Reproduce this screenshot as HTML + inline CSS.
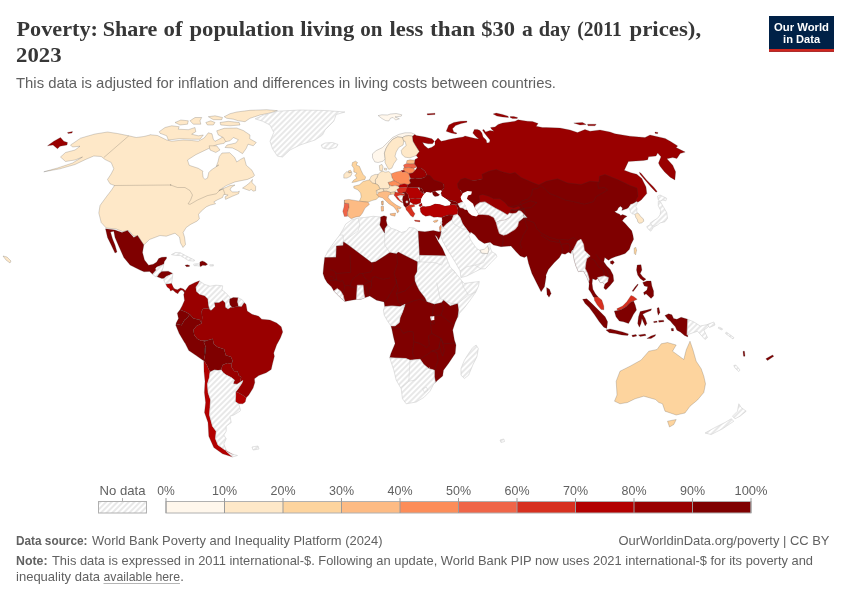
<!DOCTYPE html>
<html lang="en"><head><meta charset="utf-8"><title>Poverty: Share of population living on less than $30 a day</title>
<style>html,body{margin:0;padding:0;background:#fff;}svg{display:block}</style></head><body>
<svg width="850" height="600" viewBox="0 0 850 600">
<defs><pattern id="hatch" width="4" height="4" patternUnits="userSpaceOnUse" patternTransform="rotate(45)"><rect width="4" height="4" fill="#fff"/><line x1="2" y1="0" x2="2" y2="4" stroke="#dadada" stroke-width="1.25"/></pattern></defs>
<rect width="850" height="600" fill="#fff"/>
<text y="36.4" font-family='"Liberation Serif", "Times New Roman", serif' font-size="22" font-weight="bold" fill="#373737"><tspan x="16.5" textLength="81.5" lengthAdjust="spacingAndGlyphs">Poverty:</tspan> <tspan x="102.7" textLength="54.7" lengthAdjust="spacingAndGlyphs">Share</tspan> <tspan x="163.5" textLength="19.0" lengthAdjust="spacingAndGlyphs">of</tspan> <tspan x="189.4" textLength="104.8" lengthAdjust="spacingAndGlyphs">population</tspan> <tspan x="300.2" textLength="54.0" lengthAdjust="spacingAndGlyphs">living</tspan> <tspan x="360.2" textLength="22.2" lengthAdjust="spacingAndGlyphs">on</tspan> <tspan x="389.5" textLength="33.9" lengthAdjust="spacingAndGlyphs">less</tspan> <tspan x="430.1" textLength="45.1" lengthAdjust="spacingAndGlyphs">than</tspan> <tspan x="481.3" textLength="33.8" lengthAdjust="spacingAndGlyphs">$30</tspan> <tspan x="521.9" textLength="10.8" lengthAdjust="spacingAndGlyphs">a</tspan> <tspan x="538.8" textLength="31.7" lengthAdjust="spacingAndGlyphs">day</tspan> <tspan x="577.3" textLength="44.4" lengthAdjust="spacingAndGlyphs">(2011</tspan> <tspan x="629.5" textLength="71.6" lengthAdjust="spacingAndGlyphs">prices),</tspan></text>
<text x="16" y="62.3" font-family='"Liberation Serif", "Times New Roman", serif' font-size="22" font-weight="bold" fill="#373737" text-anchor="start" textLength="45.5" lengthAdjust="spacingAndGlyphs">2023</text>
<text x="16" y="87.7" font-family='"Liberation Sans", Arial, sans-serif' font-size="14.5" font-weight="normal" fill="#616161" text-anchor="start" textLength="540" lengthAdjust="spacingAndGlyphs">This data is adjusted for inflation and differences in living costs between countries.</text>
<g><rect x="769" y="16" width="65" height="35.8" fill="#002147"/><rect x="769" y="49" width="65" height="2.8" fill="#ce261e"/>
<text x="801.5" y="30.5" font-family='"Liberation Sans", Arial, sans-serif' font-size="11.4" font-weight="bold" fill="#fff" text-anchor="middle" textLength="55" lengthAdjust="spacingAndGlyphs">Our World</text>
<text x="801.6" y="42.8" font-family='"Liberation Sans", Arial, sans-serif' font-size="11.4" font-weight="bold" fill="#fff" text-anchor="middle" textLength="37" lengthAdjust="spacingAndGlyphs">in Data</text>
</g>
<g id="map" stroke-linejoin="round">
<path d="M128.8,135.8L117.5,133.5L107.5,132.0L95.0,134.0L86.2,136.5L80.5,138.2L75.0,142.0L70.5,145.0L72.5,147.0L80.0,146.2L75.0,150.0L65.5,152.5L60.5,157.0L65.5,161.5L75.0,160.0L82.5,157.0L72.5,163.0L57.5,168.0L43.8,171.8L60.0,168.8L75.0,164.5L86.2,159.2L93.8,156.0L101.2,156.5L105.0,159.5L111.2,162.5L113.8,168.8L111.2,173.8L107.5,179.5L110.0,183.8L114.5,185.5L111.2,190.5L106.2,197.0L100.0,205.5L98.8,213.0L101.2,222.5L106.2,228.0L116.2,229.0L122.5,231.5L128.8,230.5L133.8,236.2L138.0,235.8L143.8,245.0L149.5,239.5L160.0,235.5L166.2,236.2L175.0,233.2L179.5,237.0L180.5,243.0L183.0,247.5L185.5,244.5L184.5,237.0L183.1,232.5L186.2,227.5L190.6,224.4L196.9,221.2L199.4,218.8L198.5,214.4L201.2,211.2L206.2,206.9L210.0,205.2L215.6,203.8L213.8,201.9L217.5,199.8L222.5,197.5L223.8,194.4L228.1,195.0L225.0,196.9L225.6,199.4L232.5,196.2L238.5,193.8L239.4,191.2L237.5,191.9L232.5,191.9L230.0,190.0L231.2,187.5L235.0,185.0L230.0,185.6L225.0,187.8L218.8,190.6L226.2,185.6L235.0,181.9L247.5,179.4L253.1,176.9L254.5,175.3L252.0,170.3L246.3,165.3L244.2,157.5L240.8,159.2L236.7,162.0L234.7,157.5L229.7,152.7L222.0,153.0L219.2,156.7L218.0,161.7L216.3,166.3L218.8,165.0L211.2,170.0L208.8,172.5L207.5,178.1L205.0,179.4L203.1,177.5L202.5,172.5L203.0,171.3L198.3,168.3L189.2,165.3L187.5,160.0L195.8,154.7L208.3,148.7L216.7,144.7L224.2,143.3L228.3,138.0L225.8,134.7L220.0,138.7L215.0,141.3L213.3,139.2L212.0,133.8L208.3,132.8L204.2,138.0L198.3,141.2L191.7,140.5L183.3,140.0L171.7,141.2L166.7,140.0L157.5,135.5L150.0,134.7L150.0,135.0L143.8,136.5L136.2,137.5Z" fill="#fee8c8" stroke="#333" stroke-opacity="0.4" stroke-width="0.5"/>
<path d="M242.5,188.1L246.2,185.6L250.0,182.5L252.5,179.4L251.9,182.5L255.6,186.2L255.6,190.6L253.1,191.2L251.2,189.4L249.4,190.6L246.2,189.4Z" fill="#fee8c8" stroke="#333" stroke-opacity="0.4" stroke-width="0.5"/>
<path d="M159.2,131.7L165.0,127.5L171.7,125.8L179.2,126.7L178.3,129.2L188.3,129.7L195.0,127.5L195.8,131.7L191.7,134.2L198.3,135.8L203.3,135.0L200.0,139.2L191.7,139.2L180.0,138.7L168.3,140.0L166.7,135.8L160.0,133.3Z" fill="#fee8c8" stroke="#333" stroke-opacity="0.4" stroke-width="0.5"/>
<path d="M224.2,116.7L230.0,113.7L236.7,112.0L250.0,110.3L266.7,109.7L277.5,110.7L270.0,113.0L260.0,115.0L250.0,118.3L245.0,121.7L238.3,120.8L233.3,119.2L226.7,118.3Z" fill="#fee8c8" stroke="#333" stroke-opacity="0.4" stroke-width="0.5"/>
<path d="M220.0,122.5L228.3,121.3L239.2,122.5L240.0,125.0L230.0,125.8L220.8,125.0Z" fill="#fee8c8" stroke="#333" stroke-opacity="0.4" stroke-width="0.5"/>
<path d="M216.7,130.8L224.2,128.3L236.7,128.0L243.3,130.5L250.0,135.0L249.7,138.7L256.3,142.5L253.3,145.8L248.0,144.2L246.3,148.3L242.5,153.7L237.5,150.5L232.5,148.0L225.0,147.5L227.0,145.0L235.8,143.0L238.3,139.7L233.3,137.5L230.0,140.8L225.8,141.7L223.3,137.5L218.3,135.0Z" fill="#fee8c8" stroke="#333" stroke-opacity="0.4" stroke-width="0.5"/>
<path d="M175.0,122.5L180.8,120.0L188.3,120.8L187.5,124.2L180.0,125.0Z" fill="#fee8c8" stroke="#333" stroke-opacity="0.4" stroke-width="0.5"/>
<path d="M190.0,120.8L195.0,117.5L201.7,117.5L200.0,120.8L200.8,124.2L193.3,124.2Z" fill="#fee8c8" stroke="#333" stroke-opacity="0.4" stroke-width="0.5"/>
<path d="M205.8,122.5L210.8,120.8L215.0,122.5L213.3,125.0L207.5,125.0Z" fill="#fee8c8" stroke="#333" stroke-opacity="0.4" stroke-width="0.5"/>
<path d="M208.3,116.7L215.0,115.8L222.5,117.5L221.7,119.7L213.3,119.7Z" fill="#fee8c8" stroke="#333" stroke-opacity="0.4" stroke-width="0.5"/>
<path d="M209.2,145.8L216.7,145.8L220.0,150.0L215.8,152.5L210.0,150.0Z" fill="#fee8c8" stroke="#333" stroke-opacity="0.4" stroke-width="0.5"/>
<path d="M47.5,145.8L53.8,141.2L60.5,137.5L63.8,141.2L67.5,142.5L67.0,145.0L60.0,146.2L57.5,148.8L53.0,145.0Z" fill="#990000" stroke="#333" stroke-opacity="0.4" stroke-width="0.5"/>
<path d="M67.5,132.5L72.5,131.5L72.0,133.0L68.0,133.5Z" fill="#990000" stroke="#333" stroke-opacity="0.4" stroke-width="0.5"/>
<path d="M255.0,118.8L263.8,115.0L277.5,111.2L300.0,110.0L325.0,110.5L345.0,112.0L336.2,114.5L333.8,121.2L325.0,130.0L322.5,135.0L315.0,140.0L300.0,145.0L290.0,150.0L282.5,157.0L277.5,156.2L272.5,148.8L270.0,141.2L273.8,132.5L270.0,125.0L262.5,121.2Z" fill="url(#hatch)" stroke="#cfcfcf" stroke-width="0.6"/>
<path d="M321.2,145.0L325.0,143.0L332.5,142.5L338.0,144.5L336.2,147.5L328.8,149.2L322.5,148.0Z" fill="url(#hatch)" stroke="#cfcfcf" stroke-width="0.6"/>
<path d="M105.5,228.8L115.0,230.0L122.0,232.5L127.5,230.5L133.8,237.5L137.5,235.5L143.8,245.0L142.5,252.5L144.5,260.0L148.6,265.2L153.2,264.2L156.7,262.1L158.7,258.6L161.8,257.3L166.5,256.9L166.5,258.6L164.3,261.6L163.8,264.2L161.8,265.2L156.7,267.2L155.7,268.7L156.2,270.2L152.6,274.3L149.6,271.4L144.0,271.8L140.0,270.0L130.0,265.0L123.8,257.5L118.8,246.2L115.0,237.5L113.8,231.2L110.5,232.0L112.5,238.8L115.0,245.0L117.0,252.0L115.0,253.0L111.2,245.0L107.5,237.5Z" fill="#7f0000" stroke="#333" stroke-opacity="0.4" stroke-width="0.5"/>
<path d="M161.8,265.2L163.8,264.2L163.1,267.7L161.8,271.4L159.2,273.8L157.2,276.8L155.2,276.5L152.6,274.3L156.2,270.2L155.7,268.7L156.7,267.2Z" fill="url(#hatch)" stroke="#cfcfcf" stroke-width="0.6"/>
<path d="M159.2,273.8L161.8,271.4L168.3,271.2L172.9,273.5L169.3,275.3L166.3,276.5L164.3,278.3L161.8,278.5L157.2,276.8Z" fill="#7f0000" stroke="#333" stroke-opacity="0.4" stroke-width="0.5"/>
<path d="M164.3,278.3L166.3,276.5L169.3,275.3L172.9,273.5L172.2,279.3L171.6,283.6L168.3,283.9L165.8,284.2L163.8,280.4Z" fill="url(#hatch)" stroke="#cfcfcf" stroke-width="0.6"/>
<path d="M165.8,284.2L168.3,283.9L171.6,283.6L173.4,287.6L172.9,290.0L170.4,291.0L169.8,289.0L167.1,286.9Z" fill="#b30000" stroke="#333" stroke-opacity="0.4" stroke-width="0.5"/>
<path d="M172.9,290.0L173.4,287.6L174.9,289.0L177.4,289.7L180.5,287.9L183.5,289.0L185.5,291.0L184.5,293.0L183.0,290.5L181.0,290.0L179.0,291.7L177.9,293.7L175.6,292.5Z" fill="#990000" stroke="#333" stroke-opacity="0.4" stroke-width="0.5"/>
<path d="M171.4,254.6L175.4,252.5L180.5,252.8L185.5,255.6L190.6,258.1L194.6,260.1L194.1,261.1L188.6,260.6L184.5,258.1L180.5,255.6L174.9,255.3Z" fill="url(#hatch)" stroke="#cfcfcf" stroke-width="0.6"/>
<path d="M185.0,265.2L187.3,264.8L189.6,265.4L189.4,266.5L186.5,266.7Z" fill="#7f0000" stroke="#333" stroke-opacity="0.4" stroke-width="0.5"/>
<path d="M193.6,264.2L196.7,263.7L199.9,264.0L199.9,266.2L197.2,265.7L194.1,265.7Z" fill="url(#hatch)" stroke="#cfcfcf" stroke-width="0.6"/>
<path d="M199.9,262.1L202.2,260.9L204.8,261.9L207.6,264.2L205.8,265.4L202.7,265.2L200.5,266.7L199.9,265.2Z" fill="#7f0000" stroke="#333" stroke-opacity="0.4" stroke-width="0.5"/>
<path d="M209.8,264.7L213.4,264.7L213.4,266.0L210.0,266.0Z" fill="url(#hatch)" stroke="#cfcfcf" stroke-width="0.6"/>
<path d="M199.5,281.0L204.3,284.3L210.0,286.2L216.0,285.2L222.7,285.8L222.0,290.0L225.0,292.2L228.7,296.0L231.0,299.0L229.5,302.7L231.0,307.2L228.0,309.2L225.3,307.2L225.0,302.7L222.7,300.5L219.0,302.7L214.5,302.7L215.2,306.5L211.5,310.2L209.2,308.7L208.2,305.0L207.7,299.0L204.7,296.0L199.5,294.5L196.2,291.5L195.7,287.0L198.3,283.2Z" fill="url(#hatch)" stroke="#cfcfcf" stroke-width="0.6"/>
<path d="M229.8,299.0L233.2,297.5L238.2,297.8L237.7,302.0L238.8,306.5L234.7,306.9L232.5,307.7L230.2,305.0L229.5,302.0Z" fill="#7f0000" stroke="#333" stroke-opacity="0.4" stroke-width="0.5"/>
<path d="M238.2,297.8L242.2,299.7L244.2,302.7L241.5,306.8L238.8,306.5L237.7,302.0Z" fill="url(#hatch)" stroke="#cfcfcf" stroke-width="0.6"/>
<path d="M185.2,290.7L189.0,285.5L195.0,282.5L199.5,280.7L198.3,283.2L195.7,287.0L196.2,291.5L199.5,294.5L204.7,296.0L207.7,299.0L208.2,305.0L209.2,308.7L210.0,310.2L208.5,308.3L203.2,308.7L201.7,311.0L202.2,317.7L201.7,323.0L199.5,319.7L193.5,318.5L189.7,314.3L185.2,311.7L180.0,309.8L182.2,305.7L184.5,300.5L183.7,294.5Z" fill="#990000" stroke="#333" stroke-opacity="0.4" stroke-width="0.5"/>
<path d="M180.0,309.8L185.2,311.7L189.7,314.3L187.5,317.7L184.5,320.0L181.5,325.2L177.7,324.2L175.8,325.2L176.2,323.0L178.5,318.5L177.3,313.2Z" fill="#7f0000" stroke="#333" stroke-opacity="0.4" stroke-width="0.5"/>
<path d="M175.8,325.2L177.7,324.2L181.5,325.2L184.5,320.0L187.5,317.7L189.7,314.3L193.5,318.5L199.5,319.7L201.7,323.0L201.0,323.7L196.5,326.0L193.5,329.7L194.2,335.0L197.2,338.7L201.0,340.7L207.7,340.2L203.7,341.7L205.8,347.0L205.2,354.5L204.8,347.5L205.0,355.0L203.8,360.6L202.5,360.0L196.2,355.6L188.8,350.6L185.0,343.1L184.5,342.5L179.2,333.5Z" fill="#7f0000" stroke="#333" stroke-opacity="0.4" stroke-width="0.5"/>
<path d="M203.7,341.7L207.7,340.2L212.7,338.7L213.7,344.0L217.5,347.0L224.2,349.2L225.7,355.2L230.7,356.7L231.2,357.5L232.8,361.2L231.2,363.8L227.5,363.1L222.5,365.0L221.2,370.0L218.1,370.6L214.4,370.0L210.0,372.2L206.9,365.0L203.8,360.6L205.0,355.0L204.8,347.5L205.2,354.5L205.8,347.0Z" fill="#7f0000" stroke="#333" stroke-opacity="0.4" stroke-width="0.5"/>
<path d="M210.0,310.2L211.5,310.2L215.2,306.5L214.5,302.7L219.0,302.7L222.7,300.5L225.0,302.7L225.3,307.2L228.0,309.2L231.0,307.2L232.5,307.7L234.7,306.9L238.8,306.5L241.5,306.8L244.2,302.7L246.0,304.2L247.2,311.0L252.0,314.3L258.7,316.2L261.7,319.2L269.9,320.0L276.7,323.0L281.2,326.7L282.7,332.0L280.4,338.0L276.7,344.7L273.7,353.0L274.4,356.2L272.5,363.8L271.2,369.4L266.2,372.8L258.8,375.6L254.4,378.8L254.8,382.5L253.1,388.1L248.8,395.0L246.2,397.8L242.5,395.0L237.5,392.2L235.6,391.9L238.1,388.8L241.9,383.1L242.8,380.6L240.0,382.5L241.2,376.9L238.8,375.6L237.5,371.2L234.4,371.2L231.9,368.1L231.2,363.8L232.8,361.2L231.2,357.5L230.7,356.7L225.7,355.2L224.2,349.2L217.5,347.0L213.7,344.0L212.7,338.7L207.7,340.2L201.0,340.7L197.2,338.7L194.2,335.0L193.5,329.7L196.5,326.0L201.0,323.7L201.7,323.0L202.2,317.7L201.7,311.0L203.2,308.7L208.5,308.3Z" fill="#990000" stroke="#333" stroke-opacity="0.4" stroke-width="0.5"/>
<path d="M221.2,370.0L222.5,365.0L227.5,363.1L231.2,363.8L231.9,368.1L234.4,371.2L237.5,371.2L238.8,375.6L241.2,376.9L240.0,382.5L236.9,384.4L233.1,383.8L234.4,380.0L231.2,377.5L226.2,375.0L223.1,372.8Z" fill="#990000" stroke="#333" stroke-opacity="0.4" stroke-width="0.5"/>
<path d="M235.6,391.9L237.5,392.2L242.5,395.0L246.2,397.8L245.2,401.9L242.8,403.8L238.8,403.8L235.2,401.5L235.6,396.2Z" fill="#b30000" stroke="#333" stroke-opacity="0.4" stroke-width="0.5"/>
<path d="M203.8,360.6L206.9,365.0L210.0,372.2L209.4,377.5L207.5,383.8L208.1,392.5L210.6,400.0L210.0,407.5L209.5,415.0L212.5,426.2L216.2,431.2L215.5,438.8L218.0,445.0L225.0,450.0L233.8,455.0L232.5,457.0L222.5,453.8L213.8,447.5L208.8,436.2L208.0,422.5L204.5,412.5L204.8,410.0L205.6,402.5L204.4,392.5L205.0,381.2L204.0,371.2Z" fill="#b30000" stroke="#333" stroke-opacity="0.4" stroke-width="0.5"/>
<path d="M210.0,372.2L214.4,370.0L218.1,370.6L221.2,370.0L223.1,372.8L226.2,375.0L231.2,377.5L234.4,380.0L233.1,383.8L236.9,384.4L240.0,382.5L242.8,380.6L241.9,383.1L238.1,388.8L235.6,391.9L235.6,396.2L235.2,401.5L238.8,404.4L240.6,410.0L240.0,411.2L233.8,415.0L230.0,416.2L231.2,422.5L226.2,426.2L226.2,431.2L223.8,435.0L226.2,438.8L223.8,443.8L226.2,450.0L225.0,450.0L218.0,445.0L215.5,438.8L216.2,431.2L212.5,426.2L209.5,415.0L210.0,407.5L210.6,400.0L208.1,392.5L207.5,383.8L209.4,377.5Z" fill="url(#hatch)" stroke="#cfcfcf" stroke-width="0.6"/>
<path d="M226.2,451.2L231.2,453.8L237.5,455.5L232.5,457.0Z" fill="url(#hatch)" stroke="#cfcfcf" stroke-width="0.6"/>
<path d="M372.5,153.8L376.2,150.6L382.5,147.5L387.5,142.5L392.5,137.5L398.8,134.4L405.0,132.8L411.2,132.8L415.0,134.4L412.5,136.2L408.8,135.6L405.0,136.2L402.5,137.5L397.5,136.9L392.5,139.4L388.8,143.8L386.2,148.1L384.4,153.1L385.2,158.8L383.1,161.2L378.1,162.5L374.8,161.9L372.5,157.8Z" fill="#fff7ec" stroke="#333" stroke-opacity="0.4" stroke-width="0.5"/>
<path d="M392.5,139.4L397.5,136.9L402.5,137.5L403.8,141.2L403.1,145.0L398.8,147.5L396.2,151.9L395.0,156.2L396.9,159.4L393.8,163.8L391.9,168.1L388.8,169.4L386.9,166.2L385.0,162.5L385.2,158.8L384.4,153.1L386.2,148.1L388.8,143.8Z" fill="#fee8c8" stroke="#333" stroke-opacity="0.4" stroke-width="0.5"/>
<path d="M405.0,136.2L408.8,135.6L412.5,136.2L413.1,141.2L415.6,145.6L419.4,151.5L416.2,155.6L410.0,157.8L405.0,157.2L401.9,154.4L401.2,150.6L403.1,148.1L406.2,145.6L405.0,141.2L403.8,141.2L402.5,137.5Z" fill="#fee8c8" stroke="#333" stroke-opacity="0.4" stroke-width="0.5"/>
<path d="M406.9,160.6L410.0,159.8L415.0,160.2L414.4,163.8L410.0,164.0L406.5,163.1Z" fill="#fdbb84" stroke="#333" stroke-opacity="0.4" stroke-width="0.5"/>
<path d="M403.5,165.0L406.5,163.5L410.0,164.0L414.4,163.8L416.9,166.9L413.8,168.5L408.8,167.5L404.4,168.1Z" fill="#ef6548" stroke="#333" stroke-opacity="0.4" stroke-width="0.5"/>
<path d="M403.5,168.1L408.8,167.5L413.8,168.5L415.0,170.6L412.5,173.1L408.8,173.5L405.6,171.9L403.8,170.6Z" fill="#fc8d59" stroke="#333" stroke-opacity="0.4" stroke-width="0.5"/>
<path d="M401.0,170.6L403.8,170.2L405.2,171.5L402.5,172.2Z" fill="#990000" stroke="#333" stroke-opacity="0.4" stroke-width="0.5"/>
<path d="M391.2,173.8L396.2,171.9L401.0,171.0L402.5,172.2L405.6,171.9L408.8,173.5L409.8,176.2L409.4,180.0L410.6,183.1L408.1,184.8L404.4,183.8L400.6,184.4L397.5,182.5L393.8,180.6L391.9,177.5Z" fill="#fc8d59" stroke="#333" stroke-opacity="0.4" stroke-width="0.5"/>
<path d="M378.1,174.4L380.6,171.9L383.1,171.2L385.0,172.2L388.8,171.5L391.2,173.8L391.9,177.5L393.8,180.6L390.6,181.9L388.1,182.5L389.4,185.0L390.0,186.9L388.1,188.8L383.1,188.8L380.0,188.8L378.1,185.0L375.6,183.8L375.2,180.0L376.9,177.5Z" fill="#fee8c8" stroke="#333" stroke-opacity="0.4" stroke-width="0.5"/>
<path d="M379.4,165.6L381.9,164.4L383.1,166.9L382.2,171.0L379.8,170.6Z" fill="#fee8c8" stroke="#333" stroke-opacity="0.4" stroke-width="0.5"/>
<path d="M384.4,168.1L386.9,168.5L386.5,170.2L384.5,170.0Z" fill="#fee8c8" stroke="#333" stroke-opacity="0.4" stroke-width="0.5"/>
<path d="M371.2,176.2L375.0,174.4L378.1,174.4L376.9,177.5L375.2,180.0L375.6,183.8L372.5,183.1L369.4,180.0Z" fill="#fee8c8" stroke="#333" stroke-opacity="0.4" stroke-width="0.5"/>
<path d="M352.5,162.5L355.6,161.2L357.5,162.5L356.2,165.0L359.4,166.2L361.2,170.6L363.1,174.4L365.6,176.9L365.0,179.4L360.0,180.6L355.6,181.9L351.9,182.5L353.8,180.0L356.9,178.1L355.0,175.6L356.9,173.1L353.8,171.9L353.8,168.1L351.9,165.6Z" fill="#fdd49e" stroke="#333" stroke-opacity="0.4" stroke-width="0.5"/>
<path d="M348.1,171.0L350.6,170.2L351.6,172.2L349.0,173.0Z" fill="#fdd49e" stroke="#333" stroke-opacity="0.4" stroke-width="0.5"/>
<path d="M343.8,174.4L346.9,171.5L349.0,173.0L351.6,172.2L351.9,173.8L350.6,176.2L346.9,178.1L343.8,178.1Z" fill="#fee8c8" stroke="#333" stroke-opacity="0.4" stroke-width="0.5"/>
<path d="M388.1,182.5L390.6,181.9L393.8,180.6L397.5,182.5L400.6,184.4L398.1,186.2L395.0,185.6L391.9,186.2L389.4,185.0Z" fill="#fc8d59" stroke="#333" stroke-opacity="0.4" stroke-width="0.5"/>
<path d="M398.1,186.2L400.6,184.4L404.4,183.8L408.1,184.8L407.5,186.9L403.1,187.5L399.4,187.8Z" fill="#b30000" stroke="#333" stroke-opacity="0.4" stroke-width="0.5"/>
<path d="M396.9,189.4L399.4,187.8L403.1,187.5L407.5,186.9L408.8,188.8L405.6,192.5L401.2,193.8L398.1,192.5Z" fill="#d7301f" stroke="#333" stroke-opacity="0.4" stroke-width="0.5"/>
<path d="M383.1,188.8L388.1,188.8L390.0,186.9L389.4,185.0L391.9,186.2L395.0,185.6L398.1,186.2L399.4,187.8L396.9,189.4L395.0,191.9L390.6,192.5L386.9,191.2L383.8,191.2Z" fill="#fee8c8" stroke="#333" stroke-opacity="0.4" stroke-width="0.5"/>
<path d="M376.2,190.6L380.0,188.8L383.1,188.8L383.8,191.2L381.9,193.1L378.1,193.1Z" fill="#fee8c8" stroke="#333" stroke-opacity="0.4" stroke-width="0.5"/>
<path d="M409.8,176.2L408.8,173.5L412.5,173.1L415.0,170.6L416.9,168.1L421.2,168.1L425.0,171.2L426.9,175.0L424.4,177.5L420.0,178.8L415.0,178.1L410.6,178.8Z" fill="#990000" stroke="#333" stroke-opacity="0.4" stroke-width="0.5"/>
<path d="M353.8,186.2L359.4,184.8L363.1,181.5L367.8,180.2L369.4,180.0L372.5,183.1L375.6,183.8L378.1,185.0L380.0,188.8L376.2,190.6L376.9,194.4L379.0,196.9L376.2,199.4L371.9,200.6L368.1,202.2L359.4,201.2L361.2,196.9L360.6,193.1L358.1,190.0L353.8,188.1Z" fill="#fdd49e" stroke="#333" stroke-opacity="0.4" stroke-width="0.5"/>
<path d="M381.5,201.5L383.1,201.0L383.1,204.8L381.9,205.0Z" fill="#fdd49e" stroke="#333" stroke-opacity="0.4" stroke-width="0.5"/>
<path d="M344.4,203.1L348.8,203.5L349.0,207.5L347.5,212.5L347.5,216.2L344.4,216.5L342.8,211.2L344.0,206.9Z" fill="#ef6548" stroke="#333" stroke-opacity="0.4" stroke-width="0.5"/>
<path d="M344.4,200.0L348.8,199.4L359.4,201.2L368.1,202.2L369.4,204.4L365.0,208.1L362.5,213.1L360.0,216.2L355.0,217.2L351.2,218.8L348.1,216.2L347.5,212.5L349.0,207.5L348.8,203.5L344.4,203.1Z" fill="#fdbb84" stroke="#333" stroke-opacity="0.4" stroke-width="0.5"/>
<path d="M376.9,194.4L379.0,192.5L383.8,191.2L386.9,191.2L390.6,192.5L391.2,194.4L388.8,195.0L388.1,197.5L391.2,201.2L396.2,205.0L401.2,207.5L400.0,209.0L397.5,208.1L399.0,211.2L397.5,213.1L396.5,210.6L393.8,206.9L388.8,203.8L385.0,200.0L382.5,197.8L379.0,196.9Z" fill="#fdbb84" stroke="#333" stroke-opacity="0.4" stroke-width="0.5"/>
<path d="M381.0,206.5L383.5,206.2L383.5,211.0L381.5,211.2Z" fill="#fdbb84" stroke="#333" stroke-opacity="0.4" stroke-width="0.5"/>
<path d="M390.0,213.8L395.6,213.1L395.0,216.2L390.6,215.2Z" fill="#fdbb84" stroke="#333" stroke-opacity="0.4" stroke-width="0.5"/>
<path d="M390.6,192.5L395.0,191.9L394.8,194.0L391.2,194.4Z" fill="#fdd49e" stroke="#333" stroke-opacity="0.4" stroke-width="0.5"/>
<path d="M394.8,194.0L395.0,191.9L398.1,192.5L401.2,193.8L405.0,194.0L404.4,195.6L400.6,195.6L397.5,196.2L400.0,200.0L403.1,202.8L401.2,202.2L397.5,199.4L395.0,196.2L393.8,195.0Z" fill="#d7301f" stroke="#333" stroke-opacity="0.4" stroke-width="0.5"/>
<path d="M397.5,196.2L400.6,195.6L403.1,196.2L402.5,199.4L400.6,200.2Z" fill="url(#hatch)" stroke="#cfcfcf" stroke-width="0.6"/>
<path d="M402.5,192.5L405.6,191.9L408.1,194.4L408.8,198.1L410.0,201.9L409.4,205.0L407.5,206.2L405.6,207.5L403.8,205.6L403.1,202.8L402.5,199.4L403.1,196.2L404.4,195.6L405.0,194.0Z" fill="#7f0000" stroke="#333" stroke-opacity="0.4" stroke-width="0.5"/>
<path d="M406.0,201.0L407.8,201.0L407.8,202.8L406.0,202.8Z" fill="url(#hatch)" stroke="#cfcfcf" stroke-width="0.6"/>
<path d="M405.6,207.5L407.5,206.2L409.4,205.0L413.8,204.4L415.0,206.2L411.2,207.5L413.1,211.2L415.0,213.8L413.1,217.2L410.6,215.6L408.1,211.9L406.2,210.0Z" fill="#d7301f" stroke="#333" stroke-opacity="0.4" stroke-width="0.5"/>
<path d="M414.4,220.0L420.0,220.6L419.8,221.9L415.0,221.2Z" fill="#d7301f" stroke="#333" stroke-opacity="0.4" stroke-width="0.5"/>
<path d="M410.0,199.0L415.0,198.1L421.2,198.8L420.6,203.1L416.2,204.4L413.8,204.4L410.0,201.9Z" fill="#b30000" stroke="#333" stroke-opacity="0.4" stroke-width="0.5"/>
<path d="M405.6,191.9L407.5,186.9L412.5,187.5L417.5,187.5L420.0,190.6L422.5,193.1L424.4,193.8L421.2,198.8L415.0,198.1L410.0,199.0L408.8,198.1L408.1,194.4Z" fill="#b30000" stroke="#333" stroke-opacity="0.4" stroke-width="0.5"/>
<path d="M419.4,187.5L421.9,188.8L424.0,192.5L422.5,193.1L420.0,190.6Z" fill="#7f0000" stroke="#333" stroke-opacity="0.4" stroke-width="0.5"/>
<path d="M433.1,221.2L435.6,220.2L438.1,220.0L436.9,221.9L434.4,222.5Z" fill="#fdbb84" stroke="#333" stroke-opacity="0.4" stroke-width="0.5"/>
<path d="M415.0,134.4L416.2,135.6L425.0,136.9L431.9,138.8L434.4,141.2L432.5,143.8L428.1,143.8L422.5,142.5L424.4,145.6L428.1,148.5L431.9,147.2L435.0,145.0L435.0,141.2L438.0,138.0L441.2,141.2L445.0,140.6L448.8,139.4L453.8,138.5L458.1,137.8L463.1,136.9L465.0,136.0L471.2,137.5L475.6,138.5L478.8,139.0L475.6,136.2L472.8,133.1L474.4,129.4L477.5,129.4L480.0,130.6L481.9,133.1L483.1,136.9L486.2,140.0L486.9,143.1L489.4,142.5L490.0,140.0L486.9,136.2L484.4,133.1L482.5,130.0L483.8,129.4L485.6,131.9L490.0,130.6L493.8,131.2L491.2,128.8L490.6,127.5L495.0,126.9L498.1,124.4L502.5,123.1L510.0,121.9L515.0,121.2L518.1,119.8L522.5,120.6L527.5,121.2L532.5,121.5L538.1,123.5L536.2,126.2L542.5,127.5L546.2,127.5L560.0,128.0L570.0,130.0L577.5,132.5L585.0,129.5L590.0,131.2L600.0,130.0L610.0,132.0L615.0,133.8L630.0,136.2L645.0,137.5L650.0,135.0L665.2,138.4L671.0,141.8L677.7,145.9L676.1,147.6L685.2,152.1L680.2,153.5L676.9,158.5L672.7,157.6L666.9,158.8L672.7,165.2L675.6,171.8L674.9,179.9L670.2,177.2L664.4,171.8L659.9,166.0L658.5,163.1L661.0,156.8L657.7,153.1L656.0,156.0L648.5,156.8L647.7,159.8L643.5,160.5L628.4,161.5L624.3,170.2L631.0,172.7L636.8,174.3L641.8,178.5L646.0,186.9L646.8,193.6L641.2,200.0L637.5,202.5L633.8,201.2L635.0,195.0L598.8,186.2L538.8,187.5L520.0,181.2L502.5,176.2L465.0,181.9L460.0,190.0L462.5,193.5L465.0,196.2L463.8,199.4L463.1,201.9L461.2,202.5L458.1,203.8L456.2,201.9L451.2,200.6L446.9,199.4L441.9,196.2L440.6,191.9L443.8,188.1L443.8,184.4L437.5,183.1L432.5,180.6L424.4,177.5L426.9,175.0L425.0,171.2L421.2,168.1L416.9,168.1L416.9,166.9L414.4,163.8L415.0,160.2L415.0,159.4L418.1,157.8L416.2,155.6L419.4,151.5L415.6,145.6L413.1,141.2L412.5,136.2Z" fill="#990000" stroke="#333" stroke-opacity="0.4" stroke-width="0.5"/>
<path d="M446.2,131.2L448.8,125.0L453.8,122.5L460.6,121.2L466.9,121.0L466.9,122.2L461.2,123.5L455.6,125.6L452.5,128.8L453.8,131.9L456.9,133.1L456.2,134.0L451.2,133.1Z" fill="#990000" stroke="#333" stroke-opacity="0.4" stroke-width="0.5"/>
<path d="M493.1,114.0L496.2,113.1L502.5,114.4L508.1,116.2L508.5,117.5L502.5,116.9L496.9,116.0Z" fill="#990000" stroke="#333" stroke-opacity="0.4" stroke-width="0.5"/>
<path d="M510.2,116.5L513.8,116.5L517.5,117.5L517.2,118.5L512.5,118.5L510.2,117.5Z" fill="#990000" stroke="#333" stroke-opacity="0.4" stroke-width="0.5"/>
<path d="M427.0,113.8L435.0,113.2L435.0,114.5L427.5,115.0Z" fill="#990000" stroke="#333" stroke-opacity="0.4" stroke-width="0.5"/>
<path d="M573.8,123.0L582.5,122.5L586.2,124.5L580.0,125.0Z" fill="#990000" stroke="#333" stroke-opacity="0.4" stroke-width="0.5"/>
<path d="M587.5,124.2L596.2,124.2L595.0,125.8L588.0,125.8Z" fill="#990000" stroke="#333" stroke-opacity="0.4" stroke-width="0.5"/>
<path d="M639.3,172.2L641.0,173.2L646.8,180.2L653.5,186.9L657.2,191.5L656.0,192.2L651.0,186.9L645.2,180.2L640.1,174.3Z" fill="#990000" stroke="#333" stroke-opacity="0.4" stroke-width="0.5"/>
<path d="M655.0,132.0L658.0,132.5L657.5,133.8L655.0,133.2Z" fill="#990000" stroke="#333" stroke-opacity="0.4" stroke-width="0.5"/>
<path d="M409.4,180.0L410.6,178.8L415.0,178.1L420.0,178.8L424.4,177.5L426.9,175.0L430.0,175.6L433.8,180.0L441.2,182.5L443.8,184.4L444.0,188.1L441.9,190.6L438.8,195.6L435.0,196.9L432.5,196.2L430.6,193.1L426.5,191.9L424.4,193.8L424.0,192.5L421.9,188.8L419.4,187.5L417.5,187.5L412.5,187.5L407.5,186.9L408.1,184.8L410.6,183.1Z" fill="#7f0000" stroke="#333" stroke-opacity="0.4" stroke-width="0.5"/>
<path d="M462.5,193.5L460.6,190.6L458.1,188.1L457.5,183.8L460.6,179.4L465.0,178.1L471.9,180.6L477.5,180.0L483.1,178.8L481.9,174.4L488.8,171.2L496.2,169.4L502.5,171.9L510.0,173.8L515.0,172.5L521.0,177.5L532.5,182.5L538.8,185.0L546.2,181.2L557.5,178.8L567.5,183.0L581.2,184.5L590.0,181.2L598.8,182.0L599.5,176.2L605.0,174.5L617.5,179.5L630.0,185.5L637.0,188.0L638.0,196.2L635.0,201.2L636.7,201.7L633.3,203.8L630.8,204.6L628.8,207.5L626.7,208.8L624.2,209.6L621.8,210.4L622.5,207.9L620.4,206.2L618.3,207.9L617.1,210.4L614.6,211.5L616.7,212.9L619.6,214.2L620.8,215.4L622.5,214.6L627.1,216.2L624.2,218.3L622.3,220.8L625.0,223.3L628.3,227.1L631.7,230.8L632.9,235.0L633.6,239.3L631.1,244.3L629.4,249.3L625.2,253.5L620.2,255.2L615.2,256.8L611.0,258.5L608.5,260.2L606.0,258.5L604.8,257.5L603.8,261.7L606.8,265.9L610.1,269.2L613.1,275.1L613.8,280.9L610.1,285.4L605.9,289.8L603.8,288.1L604.8,284.2L602.6,282.6L600.1,282.6L597.6,278.4L595.9,280.1L592.6,278.7L592.1,283.4L592.9,289.3L595.4,293.8L598.1,297.1L593.4,297.1L590.9,292.6L588.7,289.3L589.2,283.4L588.7,281.7L586.7,276.7L583.4,270.9L578.4,271.7L575.9,265.9L574.2,260.0L572.5,250.0L571.0,253.5L568.4,252.2L565.1,254.3L561.8,253.5L559.3,257.7L554.2,262.7L548.4,269.4L545.9,275.2L546.1,276.8L544.5,286.8L541.1,291.8L536.9,283.5L531.9,273.4L528.6,263.4L526.9,255.9L524.4,257.6L520.2,255.9L516.1,251.7L511.0,245.9L501.0,246.7L493.5,245.0L490.2,242.2L484.3,243.4L478.8,240.0L474.8,235.0L470.8,232.0L470.0,233.8L466.2,228.8L462.5,223.8L460.0,217.5L457.5,214.4L458.1,210.0L456.9,206.2L455.0,204.4L458.1,204.0L460.0,207.5L463.1,208.1L465.0,209.4L466.9,209.4L467.5,206.2L468.1,203.1L465.0,197.5L463.8,194.4Z" fill="#7f0000" stroke="#333" stroke-opacity="0.4" stroke-width="0.5"/>
<path d="M446.9,199.4L451.2,200.6L456.2,201.9L458.1,203.8L458.1,204.0L455.0,204.4L452.5,204.4L449.8,205.2L450.6,202.5Z" fill="#7f0000" stroke="#333" stroke-opacity="0.4" stroke-width="0.5"/>
<path d="M458.1,203.8L461.2,202.5L463.1,201.9L465.6,205.0L466.9,209.4L465.0,209.4L463.1,208.1L460.0,207.5L458.1,204.0Z" fill="url(#hatch)" stroke="#cfcfcf" stroke-width="0.6"/>
<path d="M478.8,195.6L482.5,194.4L488.8,196.2L493.8,198.8L500.0,198.8L505.0,202.5L508.1,206.2L513.8,208.1L518.8,206.2L520.6,208.1L515.0,210.6L511.2,209.4L509.4,213.1L507.5,215.0L501.2,211.2L495.0,208.1L490.0,205.0L485.0,201.9L480.0,202.5L479.4,198.8Z" fill="#990000" stroke="#333" stroke-opacity="0.4" stroke-width="0.5"/>
<path d="M478.8,214.4L476.9,211.2L474.4,207.5L476.2,205.0L480.0,202.5L485.0,201.9L490.0,205.0L495.0,208.1L501.2,211.2L507.5,215.0L509.4,213.1L512.5,213.8L510.0,217.5L505.0,220.0L500.0,220.6L496.2,222.5L493.8,217.5L488.8,215.0L482.5,214.4Z" fill="url(#hatch)" stroke="#cfcfcf" stroke-width="0.6"/>
<path d="M496.2,222.5L500.0,220.6L505.0,220.0L510.0,217.5L512.5,213.8L516.2,213.1L518.8,210.6L521.0,211.2L526.9,217.6L523.6,217.6L518.6,221.8L517.7,226.0L515.2,229.3L511.0,231.8L506.9,234.3L503.5,235.2L499.4,233.5L497.5,227.5Z" fill="url(#hatch)" stroke="#cfcfcf" stroke-width="0.6"/>
<path d="M577.6,241.0L581.0,239.3L583.5,244.3L584.3,250.2L586.8,252.7L590.2,256.0L586.8,258.5L585.9,262.5L585.1,268.4L587.6,273.4L589.2,279.2L588.7,281.7L586.7,276.7L583.4,270.9L578.4,271.7L575.9,265.9L574.2,260.0L572.5,250.0L571.0,253.5L573.5,249.3L576.0,244.3Z" fill="url(#hatch)" stroke="#cfcfcf" stroke-width="0.6"/>
<path d="M597.6,277.6L604.3,275.9L608.4,277.6L607.6,281.7L604.3,284.2L602.6,282.6L600.1,282.6Z" fill="url(#hatch)" stroke="#cfcfcf" stroke-width="0.6"/>
<path d="M610.2,261.5L612.7,260.5L614.4,262.2L612.7,264.4L610.5,263.5Z" fill="#7f0000" stroke="#333" stroke-opacity="0.4" stroke-width="0.5"/>
<path d="M634.1,248.2L635.8,247.3L636.6,250.2L635.6,254.8L634.3,253.5Z" fill="#fdd49e" stroke="#333" stroke-opacity="0.4" stroke-width="0.5"/>
<path d="M634.6,214.2L637.1,212.9L638.8,213.8L640.8,216.7L643.3,218.8L643.8,221.2L641.7,222.9L639.2,223.3L637.9,222.1L637.1,219.2L635.8,217.5L635.4,215.8Z" fill="#fee8c8" stroke="#333" stroke-opacity="0.4" stroke-width="0.5"/>
<path d="M636.7,201.7L637.9,202.5L636.7,204.6L635.8,206.7L637.1,208.8L636.7,210.8L637.1,212.9L634.6,214.2L632.1,213.8L630.4,212.1L630.0,210.0L628.8,207.5L630.8,204.6L633.3,203.8Z" fill="url(#hatch)" stroke="#cfcfcf" stroke-width="0.6"/>
<path d="M546.6,287.6L549.5,289.3L551.1,293.5L549.0,297.2L547.0,294.3Z" fill="#7f0000" stroke="#333" stroke-opacity="0.4" stroke-width="0.5"/>
<path d="M420.0,208.1L422.5,206.2L425.6,206.5L430.0,205.9L435.0,203.8L440.0,204.2L445.0,205.9L449.8,205.2L452.5,204.4L455.0,204.4L456.9,206.2L458.1,210.0L457.5,214.4L453.8,215.2L448.8,215.0L443.8,216.5L441.9,217.5L437.5,216.9L433.8,217.2L430.0,215.6L425.6,216.2L422.5,214.4L420.6,211.9Z" fill="#b30000" stroke="#333" stroke-opacity="0.4" stroke-width="0.5"/>
<path d="M418.8,205.0L421.9,203.1L422.5,205.2L420.0,206.9Z" fill="#b30000" stroke="#333" stroke-opacity="0.4" stroke-width="0.5"/>
<path d="M441.9,217.5L443.8,216.5L448.8,215.0L453.8,215.2L451.9,220.0L446.9,223.8L443.1,227.5L441.5,223.8L442.2,220.6Z" fill="#7f0000" stroke="#333" stroke-opacity="0.4" stroke-width="0.5"/>
<path d="M440.6,221.9L441.9,221.9L441.9,224.0L440.6,224.0Z" fill="url(#hatch)" stroke="#cfcfcf" stroke-width="0.6"/>
<path d="M439.4,226.9L441.0,225.0L441.5,228.1L440.6,233.1L439.6,230.0Z" fill="#fc8d59" stroke="#333" stroke-opacity="0.4" stroke-width="0.5"/>
<path d="M443.1,227.5L446.9,223.8L451.9,220.0L453.8,215.2L457.5,214.4L460.0,217.5L462.5,223.8L466.2,228.8L470.0,233.8L468.8,235.4L470.5,239.7L473.8,244.7L476.8,248.7L480.1,250.4L481.5,253.1L487.7,253.7L488.8,250.1L487.7,245.9L489.8,243.4L490.2,247.6L491.8,251.7L496.0,254.2L496.8,256.7L491.0,262.6L485.2,268.8L481.0,268.8L475.1,271.8L466.8,276.0L460.9,277.6L460.1,270.9L455.9,263.4L450.9,255.1L446.7,248.4L442.6,240.9L439.7,233.4L440.6,233.1L441.5,228.1Z" fill="url(#hatch)" stroke="#cfcfcf" stroke-width="0.6"/>
<path d="M480.1,250.1L484.3,249.2L487.7,245.9L488.8,250.1L487.7,253.7L481.5,253.1Z" fill="#fff7ec" stroke="#333" stroke-opacity="0.4" stroke-width="0.5"/>
<path d="M421.9,202.5L421.0,199.4L423.1,195.6L426.5,191.9L430.6,192.8L432.2,191.9L435.0,191.0L440.6,190.2L441.9,191.0L440.6,193.5L439.4,195.0L441.9,196.2L446.9,199.4L450.6,202.5L449.8,205.0L445.0,205.6L440.0,204.0L435.0,203.5L430.0,205.6L425.6,206.2L422.5,205.0Z" fill="#fff"/>
<path d="M432.2,191.9L435.0,191.0L437.2,193.1L439.6,194.8L438.1,196.0L435.0,196.5L433.1,195.0Z" fill="#7f0000" stroke="#333" stroke-opacity="0.4" stroke-width="0.5"/>
<path d="M460.6,196.9L463.1,193.1L467.5,191.0L471.9,191.5L471.2,194.4L468.1,195.6L466.9,198.8L470.0,201.2L473.1,203.8L474.4,207.5L476.9,211.2L478.8,214.4L476.2,216.5L471.9,215.6L468.8,213.1L466.9,209.4L465.6,205.0L463.1,201.9L461.2,199.4Z" fill="#fff"/>
<path d="M593.9,296.9L598.1,296.9L601.8,300.1L603.8,306.0L603.9,309.8L601.1,309.5L597.1,304.8L594.6,300.6Z" fill="#d7301f" stroke="#333" stroke-opacity="0.4" stroke-width="0.5"/>
<path d="M582.6,299.3L586.7,298.8L590.9,302.6L595.9,307.6L600.9,312.6L605.1,316.8L607.6,321.8L606.8,328.5L603.8,327.2L599.3,321.8L594.2,314.3L589.2,307.6L585.1,303.5Z" fill="#7f0000" stroke="#333" stroke-opacity="0.4" stroke-width="0.5"/>
<path d="M605.9,329.9L610.1,328.9L616.8,330.5L622.6,331.9L628.5,333.9L627.7,335.5L621.8,334.9L615.1,333.5L609.3,332.7Z" fill="#7f0000" stroke="#333" stroke-opacity="0.4" stroke-width="0.5"/>
<path d="M631.8,335.2L636.0,334.4L636.8,336.0L632.7,336.9Z" fill="#7f0000" stroke="#333" stroke-opacity="0.4" stroke-width="0.5"/>
<path d="M638.5,334.9L645.2,334.0L646.0,335.5L640.2,336.5Z" fill="#7f0000" stroke="#333" stroke-opacity="0.4" stroke-width="0.5"/>
<path d="M646.9,338.5L651.0,336.0L655.6,334.4L655.2,336.0L651.0,338.5Z" fill="#7f0000" stroke="#333" stroke-opacity="0.4" stroke-width="0.5"/>
<path d="M616.8,308.8L622.6,306.0L626.8,301.8L631.0,295.4L633.5,296.4L637.2,299.3L633.5,301.0L630.2,302.6L626.0,306.8L621.0,309.8L617.6,310.5Z" fill="#d7301f" stroke="#333" stroke-opacity="0.4" stroke-width="0.5"/>
<path d="M614.3,311.0L617.6,310.5L621.0,309.8L626.0,306.8L630.2,302.6L633.5,301.0L635.2,305.1L636.5,310.1L633.5,314.3L631.0,319.3L628.5,323.5L623.5,321.8L619.3,321.0L616.0,316.8Z" fill="#7f0000" stroke="#333" stroke-opacity="0.4" stroke-width="0.5"/>
<path d="M640.2,311.5L646.9,310.1L651.5,308.8L651.0,310.5L646.0,312.6L642.7,314.3L645.2,318.5L646.9,323.5L645.2,326.0L643.2,321.8L641.9,318.5L641.0,323.5L639.4,327.2L637.7,323.5L638.5,316.8Z" fill="#7f0000" stroke="#333" stroke-opacity="0.4" stroke-width="0.5"/>
<path d="M637.2,265.0L641.0,264.7L641.9,270.0L640.2,273.4L642.7,276.7L646.0,279.2L643.5,280.9L640.2,278.4L637.7,275.1L636.5,270.0Z" fill="#7f0000" stroke="#333" stroke-opacity="0.4" stroke-width="0.5"/>
<path d="M642.7,282.6L646.9,280.9L651.0,280.9L651.9,285.9L653.6,290.9L653.6,295.9L651.0,298.4L648.5,295.9L646.0,293.8L644.4,295.1L643.5,292.6L646.9,290.1L647.7,286.8L644.4,285.9Z" fill="#7f0000" stroke="#333" stroke-opacity="0.4" stroke-width="0.5"/>
<path d="M632.2,290.9L635.2,286.8L637.7,283.9L638.2,284.7L635.5,288.4L633.2,291.4Z" fill="#7f0000" stroke="#333" stroke-opacity="0.4" stroke-width="0.5"/>
<path d="M657.2,308.1L658.9,307.6L659.9,312.6L658.2,315.2L657.4,311.8Z" fill="#7f0000" stroke="#333" stroke-opacity="0.4" stroke-width="0.5"/>
<path d="M653.6,321.5L656.9,321.0L657.2,322.2L653.9,322.7Z" fill="#7f0000" stroke="#333" stroke-opacity="0.4" stroke-width="0.5"/>
<path d="M658.6,320.5L663.6,320.2L663.9,321.8L658.9,322.2Z" fill="#7f0000" stroke="#333" stroke-opacity="0.4" stroke-width="0.5"/>
<path d="M664.9,315.5L668.6,313.8L671.9,314.8L673.6,318.5L676.9,319.3L681.1,317.2L687.8,319.3L687.8,336.9L684.5,335.5L680.3,331.9L676.9,330.2L675.3,326.8L672.3,323.5L670.3,321.0L667.8,319.3Z" fill="#7f0000" stroke="#333" stroke-opacity="0.4" stroke-width="0.5"/>
<path d="M671.1,328.5L673.3,328.2L673.6,331.0L671.6,331.0Z" fill="#7f0000" stroke="#333" stroke-opacity="0.4" stroke-width="0.5"/>
<path d="M687.8,319.3L693.6,321.8L700.3,326.0L711.2,323.8L707.5,327.5L703.8,330.0L707.5,337.5L705.0,339.5L697.5,331.2L690.0,333.8L687.0,335.0Z" fill="url(#hatch)" stroke="#cfcfcf" stroke-width="0.6"/>
<path d="M707.5,324.5L713.8,322.0L715.0,325.0L709.5,327.5Z" fill="url(#hatch)" stroke="#cfcfcf" stroke-width="0.6"/>
<path d="M614.5,401.2L617.0,395.0L616.2,381.2L620.0,371.2L630.0,366.2L641.2,360.0L648.8,351.2L657.0,349.5L661.2,343.8L667.5,342.5L676.2,345.0L672.5,351.2L683.8,359.5L686.2,350.0L690.0,341.2L693.0,350.0L696.2,361.2L701.2,368.8L703.8,376.2L705.5,383.8L703.8,392.5L697.5,400.0L690.0,406.2L685.0,413.0L676.2,415.0L665.0,411.2L662.5,403.8L658.8,402.5L655.5,399.5L643.8,396.2L635.0,398.8L627.5,402.5L620.0,403.8Z" fill="#fdd49e" stroke="#333" stroke-opacity="0.4" stroke-width="0.5"/>
<path d="M667.5,421.2L676.2,419.5L673.8,424.5L669.5,427.0Z" fill="#fdd49e" stroke="#333" stroke-opacity="0.4" stroke-width="0.5"/>
<path d="M738.8,403.8L741.2,407.5L746.2,411.2L740.0,416.2L735.0,418.8L732.5,416.2L737.5,411.2Z" fill="url(#hatch)" stroke="#cfcfcf" stroke-width="0.6"/>
<path d="M731.2,418.8L733.8,421.2L722.5,428.8L711.2,434.5L705.0,433.0L715.0,427.5L725.0,422.5Z" fill="url(#hatch)" stroke="#cfcfcf" stroke-width="0.6"/>
<path d="M743.0,351.2L744.5,351.2L745.0,356.2L743.5,356.2Z" fill="#7f0000" stroke="#333" stroke-opacity="0.4" stroke-width="0.5"/>
<path d="M765.8,358.8L772.5,355.0L773.8,356.2L767.5,360.5Z" fill="#7f0000" stroke="#333" stroke-opacity="0.4" stroke-width="0.5"/>
<path d="M657.5,196.2L660.0,195.0L664.2,197.1L666.7,198.3L665.8,200.8L662.9,200.0L660.0,201.2L658.3,200.0Z" fill="url(#hatch)" stroke="#cfcfcf" stroke-width="0.6"/>
<path d="M658.3,201.2L660.4,201.7L663.3,206.7L666.7,212.5L667.5,218.3L665.0,221.7L660.0,222.9L657.5,225.0L654.2,226.7L651.7,225.0L650.0,223.3L653.3,220.8L657.5,218.3L660.0,215.0L660.8,210.8L658.3,205.8Z" fill="url(#hatch)" stroke="#cfcfcf" stroke-width="0.6"/>
<path d="M646.7,226.7L650.0,224.6L651.7,225.8L653.3,227.5L650.8,231.2L648.3,229.2Z" fill="url(#hatch)" stroke="#cfcfcf" stroke-width="0.6"/>
<path d="M324.7,257.6L328.0,250.9L333.9,242.6L339.7,235.0L343.1,229.2L345.6,224.2L351.4,220.0L358.1,218.0L364.8,217.5L373.1,216.3L380.6,217.0L380.6,220.8L379.8,225.0L382.3,229.2L384.5,233.0L384.8,228.4L387.3,225.0L391.5,228.4L396.5,230.0L401.5,232.5L406.5,230.9L409.0,227.5L414.1,228.0L418.2,230.9L419.6,255.4L419.6,261.8L417.4,261.8L398.2,252.1L396.5,253.8L389.8,252.6L375.6,261.8L371.5,262.6L348.9,245.4L343.4,241.7L343.1,245.6L336.4,245.9L336.0,257.3Z" fill="url(#hatch)" stroke="#cfcfcf" stroke-width="0.6"/>
<path d="M380.6,217.0L384.0,215.8L386.8,216.7L386.2,220.8L387.3,225.0L384.8,228.4L384.5,233.0L382.3,229.2L379.8,225.0L380.6,220.8Z" fill="#7f0000" stroke="#333" stroke-opacity="0.4" stroke-width="0.5"/>
<path d="M418.2,230.9L424.9,231.7L433.3,230.4L438.6,231.7L441.3,231.4L440.3,235.9L438.6,240.1L436.9,236.7L434.9,235.0L438.3,241.7L442.5,248.4L445.8,255.9L419.6,255.4Z" fill="#7f0000" stroke="#333" stroke-opacity="0.4" stroke-width="0.5"/>
<path d="M419.6,255.4L445.8,255.9L447.6,260.9L450.1,266.8L455.9,273.4L460.1,278.5L461.8,281.0L464.3,283.5L470.1,282.6L479.3,281.5L478.5,286.0L476.0,291.8L470.1,300.2L465.1,306.9L459.3,313.5L457.6,317.7L458.5,310.0L457.7,303.4L450.2,305.9L443.5,300.0L441.8,302.5L434.3,304.2L426.8,301.7L424.9,297.7L419.1,290.2L416.6,285.2L414.9,281.0L414.6,276.0L416.9,271.8L417.4,261.8L419.6,261.8Z" fill="url(#hatch)" stroke="#cfcfcf" stroke-width="0.6"/>
<path d="M324.7,257.6L323.8,265.1L323.0,273.5L324.7,278.5L327.2,282.7L331.4,286.8L333.9,291.0L337.2,294.4L341.4,298.5L344.7,301.5L351.4,300.2L356.4,299.4L360.6,299.4L364.8,297.7L369.8,296.0L376.5,300.2L384.0,301.9L384.8,306.9L391.7,305.9L400.1,306.7L405.1,304.2L402.6,311.7L400.1,317.6L399.2,322.6L395.1,325.9L390.9,325.9L391.7,328.4L393.4,336.8L395.1,343.5L390.9,353.5L389.7,357.7L405.9,358.5L410.1,360.2L420.1,359.3L423.5,364.3L428.5,368.5L434.3,370.2L434.3,376.9L435.5,382.7L436.8,381.0L442.7,376.0L443.5,370.2L448.5,363.5L455.2,353.5L456.0,345.1L454.4,340.1L452.7,330.1L455.2,322.6L457.7,316.7L458.5,310.0L457.7,303.4L450.2,305.9L443.5,300.0L441.8,302.5L434.3,304.2L426.8,301.7L424.9,297.7L419.1,290.2L416.6,285.2L414.9,281.0L414.6,276.0L416.9,271.8L417.4,261.8L398.2,252.1L396.5,253.8L389.8,252.6L375.6,261.8L371.5,262.6L348.9,245.4L343.4,241.7L343.1,245.6L336.4,245.9L336.0,257.3Z" fill="#7f0000" stroke="#333" stroke-opacity="0.4" stroke-width="0.5"/>
<path d="M356.4,299.4L357.3,285.2L363.1,285.2L363.9,293.5L364.8,297.7L360.6,299.4Z" fill="url(#hatch)" stroke="#cfcfcf" stroke-width="0.6"/>
<path d="M333.9,291.0L337.2,288.5L340.6,291.0L343.1,295.2L344.7,301.5L341.4,298.5L337.2,294.4Z" fill="url(#hatch)" stroke="#cfcfcf" stroke-width="0.6"/>
<path d="M430.1,316.4L434.3,315.9L434.3,320.1L431.0,320.4Z" fill="#fff"/>
<path d="M384.7,306.7L391.7,305.9L400.1,306.7L405.1,304.2L402.6,311.7L400.1,317.6L399.2,322.6L395.1,325.9L390.9,325.9L387.5,320.9L384.2,315.1L383.4,310.0Z" fill="url(#hatch)" stroke="#cfcfcf" stroke-width="0.6"/>
<path d="M389.7,357.7L405.9,358.5L410.1,360.2L420.1,359.3L423.5,364.3L428.5,368.5L434.3,370.2L434.3,376.9L435.5,382.7L433.8,383.8L430.0,391.2L423.8,397.5L416.2,402.0L406.2,403.8L402.5,398.8L401.2,388.8L396.2,380.0L393.8,370.0Z" fill="url(#hatch)" stroke="#cfcfcf" stroke-width="0.6"/>
<path d="M476.1,345.1L478.3,348.5L476.9,356.8L472.7,365.2L468.6,375.2L464.4,378.5L461.0,375.2L461.0,368.5L464.4,360.2L468.6,353.5L472.7,347.6Z" fill="url(#hatch)" stroke="#cfcfcf" stroke-width="0.6"/>
<path d="M378.1,115.6L381.9,114.8L387.5,115.0L390.6,114.0L396.2,113.5L401.9,114.8L401.2,116.2L395.0,116.9L399.4,118.8L395.6,120.0L393.1,117.5L390.6,118.1L388.8,121.0L385.6,120.6L381.9,118.5Z" fill="#fff7ec" stroke="#333" stroke-opacity="0.4" stroke-width="0.5"/>
<path d="M3.0,256.0L7.0,257.0L11.0,261.0L10.0,263.0L6.0,260.0Z" fill="#fee8c8" stroke="#333" stroke-opacity="0.4" stroke-width="0.5"/>
<path d="M733.8,365.5L735.8,365.0L740.0,370.0L738.8,371.5L735.0,368.0Z" fill="url(#hatch)" stroke="#cfcfcf" stroke-width="0.6"/>
<path d="M718.8,327.0L722.5,328.8L722.0,330.0L718.2,328.2Z" fill="url(#hatch)" stroke="#cfcfcf" stroke-width="0.6"/>
<path d="M726.2,332.0L733.8,337.5L733.0,339.0L725.5,333.5Z" fill="url(#hatch)" stroke="#cfcfcf" stroke-width="0.6"/>
<path d="M252.0,447.0L258.0,446.0L259.0,449.0L253.0,450.0Z" fill="url(#hatch)" stroke="#cfcfcf" stroke-width="0.6"/>
<path d="M500.0,440.0L503.8,439.0L504.5,441.5L501.0,442.5Z" fill="url(#hatch)" stroke="#cfcfcf" stroke-width="0.6"/>
<path d="M381.5,201.5L383.1,201.0L383.1,204.8L381.9,205.0Z" fill="#fdbb84" stroke="#333" stroke-opacity="0.4" stroke-width="0.5"/>
<path d="M128.8,135.8L103.8,157.5" fill="none" stroke="#333" stroke-opacity="0.4" stroke-width="0.5"/>
<path d="M114.5,185.5L171.2,185.0L170.0,184.8L177.5,187.5L185.0,187.5L190.0,190.6L192.5,195.0L190.6,200.0L188.1,203.8L190.0,204.4L197.5,200.0L207.5,195.6L216.2,193.8L219.4,190.6L223.1,188.8L225.0,194.4" fill="none" stroke="#333" stroke-opacity="0.4" stroke-width="0.5"/>
<path d="M350.1,255.0L350.8,272.3L337.1,273.5L335.6,272.6L332.8,270.2L330.0,269.8" fill="none" stroke="#333" stroke-opacity="0.4" stroke-width="0.5"/>
<path d="M335.6,272.6L336.7,280.1L330.0,280.4" fill="none" stroke="#333" stroke-opacity="0.4" stroke-width="0.5"/>
<path d="M336.7,280.1L340.6,281.5L342.4,280.4L343.8,283.2L344.5,286.1L348.3,285.3L350.1,286.1L351.2,281.8L353.3,278.3L359.6,273.7L362.5,273.5L370.9,271.9L372.7,269.1L372.3,263.5" fill="none" stroke="#333" stroke-opacity="0.4" stroke-width="0.5"/>
<path d="M362.5,273.5L363.9,276.9L366.7,279.7L369.5,281.5L371.6,281.1L372.3,277.6L375.2,276.5L379.4,278.3L383.6,279.3L390.0,277.9" fill="none" stroke="#333" stroke-opacity="0.4" stroke-width="0.5"/>
<path d="M350.1,286.1L353.3,287.3L356.5,287.1" fill="none" stroke="#333" stroke-opacity="0.4" stroke-width="0.5"/>
<path d="M369.5,281.5L366.0,283.2L363.9,285.0" fill="none" stroke="#333" stroke-opacity="0.4" stroke-width="0.5"/>
<path d="M371.6,281.1L371.6,286.1L369.5,289.6L369.2,295.0" fill="none" stroke="#333" stroke-opacity="0.4" stroke-width="0.5"/>
<path d="M366.7,286.4L367.1,295.0" fill="none" stroke="#333" stroke-opacity="0.4" stroke-width="0.5"/>
<path d="M344.5,286.1L344.1,289.6L343.1,293.5" fill="none" stroke="#333" stroke-opacity="0.4" stroke-width="0.5"/>
<path d="M330.0,276.2L332.8,276.9L334.2,279.0L336.7,280.1" fill="none" stroke="#333" stroke-opacity="0.4" stroke-width="0.5"/>
<path d="M396.5,253.8L397.4,263.4L394.0,273.5L395.7,278.5L396.5,283.5L391.5,291.8L387.3,298.5L384.0,301.9" fill="none" stroke="#333" stroke-opacity="0.4" stroke-width="0.5"/>
<path d="M395.7,278.5L398.2,288.5L396.5,293.5L404.9,291.0L412.4,284.3L414.9,281.0" fill="none" stroke="#333" stroke-opacity="0.4" stroke-width="0.5"/>
<path d="M396.5,293.5L398.2,301.9L404.9,306.0" fill="none" stroke="#333" stroke-opacity="0.4" stroke-width="0.5"/>
<path d="M405.1,304.2L413.4,300.9L420.1,299.2L426.8,301.7" fill="none" stroke="#333" stroke-opacity="0.4" stroke-width="0.5"/>
<path d="M434.3,304.2L433.5,308.4L431.8,316.7L430.5,323.4L431.8,333.4L428.5,335.9L429.3,345.1L426.8,347.6L420.1,343.5L413.8,341.8L413.1,331.8L408.4,331.4L403.4,333.4L400.1,328.4L391.7,328.4" fill="none" stroke="#333" stroke-opacity="0.4" stroke-width="0.5"/>
<path d="M441.8,302.5L443.5,308.4L441.0,315.1L434.3,315.9L432.1,316.7" fill="none" stroke="#333" stroke-opacity="0.4" stroke-width="0.5"/>
<path d="M441.0,315.1L453.5,325.1" fill="none" stroke="#333" stroke-opacity="0.4" stroke-width="0.5"/>
<path d="M456.0,343.1L443.5,343.8L441.0,338.4L431.8,333.4" fill="none" stroke="#333" stroke-opacity="0.4" stroke-width="0.5"/>
<path d="M413.8,341.8L413.1,346.8L412.6,353.5L414.3,358.5" fill="none" stroke="#333" stroke-opacity="0.4" stroke-width="0.5"/>
<path d="M420.1,359.3L423.5,356.8L427.6,354.3L431.8,351.0L438.5,349.3L439.3,345.1L441.0,338.4" fill="none" stroke="#333" stroke-opacity="0.4" stroke-width="0.5"/>
<path d="M441.0,338.4L442.7,343.5L444.3,350.1L442.7,356.0L441.0,351.8L439.3,345.1" fill="none" stroke="#333" stroke-opacity="0.4" stroke-width="0.5"/>
<path d="M431.8,351.0L436.8,352.6L438.2,360.2L434.3,370.2" fill="none" stroke="#333" stroke-opacity="0.4" stroke-width="0.5"/>
<path d="M430.5,323.4L434.3,324.2L434.3,320.1" fill="none" stroke="#333" stroke-opacity="0.4" stroke-width="0.5"/>
<path d="M410.0,360.0L408.8,381.2L401.2,387.5" fill="none" stroke="#cfcfcf" stroke-width="0.5"/>
<path d="M408.8,381.2L415.5,380.0L425.0,370.0L430.0,367.5" fill="none" stroke="#cfcfcf" stroke-width="0.5"/>
<path d="M422.5,388.8L426.2,387.0L428.0,390.0L424.5,392.5L422.5,388.8" fill="none" stroke="#cfcfcf" stroke-width="0.5"/>
<path d="M419.6,261.8L434.9,262.6L441.6,265.1L445.8,255.9" fill="none" stroke="#cfcfcf" stroke-width="0.5"/>
<path d="M441.7,280.1L447.6,275.1L453.4,270.1L455.9,273.4" fill="none" stroke="#cfcfcf" stroke-width="0.5"/>
<path d="M436.7,282.6L440.0,298.5L451.7,303.5L457.6,303.5" fill="none" stroke="#cfcfcf" stroke-width="0.5"/>
<path d="M457.6,303.5L468.4,295.2L476.0,291.8" fill="none" stroke="#cfcfcf" stroke-width="0.5"/>
<path d="M461.8,281.0L463.4,286.8L468.4,295.2" fill="none" stroke="#cfcfcf" stroke-width="0.5"/>
<path d="M343.4,241.7L358.1,230.9L359.8,225.0L358.1,218.0" fill="none" stroke="#cfcfcf" stroke-width="0.5"/>
<path d="M384.5,233.0L384.8,245.1L389.8,252.6" fill="none" stroke="#cfcfcf" stroke-width="0.5"/>
<path d="M343.4,241.7L343.1,235.0L339.7,235.0" fill="none" stroke="#cfcfcf" stroke-width="0.5"/>
<path d="M451.9,220.0L453.8,223.8L460.0,227.5L465.0,230.0L466.2,228.8" fill="none" stroke="#cfcfcf" stroke-width="0.5"/>
<path d="M443.1,227.5L447.5,230.0L443.8,233.1L440.6,233.1" fill="none" stroke="#cfcfcf" stroke-width="0.5"/>
<path d="M460.1,270.9L466.8,266.8L475.1,265.1L481.0,268.8" fill="none" stroke="#cfcfcf" stroke-width="0.5"/>
<path d="M475.1,265.1L483.5,262.6L487.7,253.7" fill="none" stroke="#cfcfcf" stroke-width="0.5"/>
<path d="M540.9,185.8L545.1,189.2L549.2,193.4L555.9,195.9L565.1,200.0L573.5,201.7L584.3,204.2L593.5,201.7L596.0,196.7L601.9,193.4L607.7,190.0L604.4,187.5L598.5,188.4L597.7,184.2L600.2,180.8" fill="none" stroke="#333" stroke-opacity="0.4" stroke-width="0.5"/>
<path d="M540.9,185.8L537.5,188.4L532.5,189.2L531.7,195.0L527.5,199.2L521.7,200.9L520.0,203.4L522.5,207.6L525.0,210.9L523.3,215.1L527.5,220.1L534.2,222.6L536.7,228.4L541.7,233.5L550.1,237.6L559.3,240.1L560.9,239.3L568.4,240.1L573.5,237.6L577.6,241.0" fill="none" stroke="#333" stroke-opacity="0.4" stroke-width="0.5"/>
<path d="M523.3,215.1L527.5,228.4L523.3,235.1L520.0,243.5L521.7,248.5" fill="none" stroke="#333" stroke-opacity="0.4" stroke-width="0.5"/>
<path d="M540.9,235.1L550.1,241.0L559.3,242.6L559.6,240.1" fill="none" stroke="#333" stroke-opacity="0.4" stroke-width="0.5"/>
<path d="M560.9,244.3L568.4,243.5L570.1,246.8L569.3,251.8" fill="none" stroke="#333" stroke-opacity="0.4" stroke-width="0.5"/>
<path d="M561.8,253.5L562.6,248.5L560.9,244.3L560.1,241.0" fill="none" stroke="#333" stroke-opacity="0.4" stroke-width="0.5"/>
<path d="M590.1,258.4L594.2,260.0L598.4,266.7L603.4,270.0L604.3,275.1" fill="none" stroke="#333" stroke-opacity="0.4" stroke-width="0.5"/>
<path d="M595.9,254.2L600.1,260.0L605.9,266.7L608.4,275.1L608.4,277.6" fill="none" stroke="#333" stroke-opacity="0.4" stroke-width="0.5"/>
<path d="M587.6,255.0L590.1,258.4" fill="none" stroke="#333" stroke-opacity="0.4" stroke-width="0.5"/>
<path d="M510.2,206.8L520.2,204.8L530.3,200.9L536.9,202.6L531.1,207.6L523.6,208.4L518.6,210.1L512.7,209.8" fill="none" stroke="#333" stroke-opacity="0.4" stroke-width="0.5"/>
<path d="M510.2,210.1L513.6,209.8L518.6,210.5L523.6,208.8L526.9,217.6" fill="none" stroke="#333" stroke-opacity="0.4" stroke-width="0.5"/>
<path d="M499.4,233.5L503.5,239.4L501.9,246.9" fill="none" stroke="#333" stroke-opacity="0.4" stroke-width="0.5"/>
<path d="M518.6,221.8L526.9,217.6" fill="none" stroke="#333" stroke-opacity="0.4" stroke-width="0.5"/>
<path d="M344.4,200.0L344.4,203.1" fill="none" stroke="#333" stroke-opacity="0.4" stroke-width="0.5"/>
</g>
<g id="legend">
<rect x="98.5" y="501.5" width="48" height="11.5" fill="url(#hatch)" stroke="#b0b0b0" stroke-width="1"/>
<line x1="122.5" y1="498" x2="122.5" y2="501.5" stroke="#b0b0b0" stroke-width="1"/>
<rect x="166.00" y="501.5" width="58.5" height="11.5" fill="#fff7ec"/>
<rect x="224.50" y="501.5" width="58.5" height="11.5" fill="#fee8c8"/>
<rect x="283.00" y="501.5" width="58.5" height="11.5" fill="#fdd49e"/>
<rect x="341.50" y="501.5" width="58.5" height="11.5" fill="#fdbb84"/>
<rect x="400.00" y="501.5" width="58.5" height="11.5" fill="#fc8d59"/>
<rect x="458.50" y="501.5" width="58.5" height="11.5" fill="#ef6548"/>
<rect x="517.00" y="501.5" width="58.5" height="11.5" fill="#d7301f"/>
<rect x="575.50" y="501.5" width="58.5" height="11.5" fill="#b30000"/>
<rect x="634.00" y="501.5" width="58.5" height="11.5" fill="#990000"/>
<rect x="692.50" y="501.5" width="58.5" height="11.5" fill="#7f0000"/>
<rect x="166" y="501.5" width="585.0" height="11.5" fill="none" stroke="#b0b0b0" stroke-width="1"/>
<line x1="166.00" y1="498" x2="166.00" y2="513" stroke="#9a9a9a" stroke-width="1"/>
<line x1="224.50" y1="498" x2="224.50" y2="513" stroke="#9a9a9a" stroke-width="1"/>
<line x1="283.00" y1="498" x2="283.00" y2="513" stroke="#9a9a9a" stroke-width="1"/>
<line x1="341.50" y1="498" x2="341.50" y2="513" stroke="#9a9a9a" stroke-width="1"/>
<line x1="400.00" y1="498" x2="400.00" y2="513" stroke="#9a9a9a" stroke-width="1"/>
<line x1="458.50" y1="498" x2="458.50" y2="513" stroke="#9a9a9a" stroke-width="1"/>
<line x1="517.00" y1="498" x2="517.00" y2="513" stroke="#9a9a9a" stroke-width="1"/>
<line x1="575.50" y1="498" x2="575.50" y2="513" stroke="#9a9a9a" stroke-width="1"/>
<line x1="634.00" y1="498" x2="634.00" y2="513" stroke="#9a9a9a" stroke-width="1"/>
<line x1="692.50" y1="498" x2="692.50" y2="513" stroke="#9a9a9a" stroke-width="1"/>
<line x1="751.00" y1="498" x2="751.00" y2="513" stroke="#9a9a9a" stroke-width="1"/>
<text x="122.5" y="494.5" font-family='"Liberation Sans", Arial, sans-serif' font-size="13" font-weight="normal" fill="#616161" text-anchor="middle" textLength="46" lengthAdjust="spacingAndGlyphs">No data</text>
<text x="166.00" y="494.5" font-family='"Liberation Sans", Arial, sans-serif' font-size="13" font-weight="normal" fill="#616161" text-anchor="middle" textLength="17.5" lengthAdjust="spacingAndGlyphs">0%</text>
<text x="224.50" y="494.5" font-family='"Liberation Sans", Arial, sans-serif' font-size="13" font-weight="normal" fill="#616161" text-anchor="middle" textLength="25" lengthAdjust="spacingAndGlyphs">10%</text>
<text x="283.00" y="494.5" font-family='"Liberation Sans", Arial, sans-serif' font-size="13" font-weight="normal" fill="#616161" text-anchor="middle" textLength="25" lengthAdjust="spacingAndGlyphs">20%</text>
<text x="341.50" y="494.5" font-family='"Liberation Sans", Arial, sans-serif' font-size="13" font-weight="normal" fill="#616161" text-anchor="middle" textLength="25" lengthAdjust="spacingAndGlyphs">30%</text>
<text x="400.00" y="494.5" font-family='"Liberation Sans", Arial, sans-serif' font-size="13" font-weight="normal" fill="#616161" text-anchor="middle" textLength="25" lengthAdjust="spacingAndGlyphs">40%</text>
<text x="458.50" y="494.5" font-family='"Liberation Sans", Arial, sans-serif' font-size="13" font-weight="normal" fill="#616161" text-anchor="middle" textLength="25" lengthAdjust="spacingAndGlyphs">50%</text>
<text x="517.00" y="494.5" font-family='"Liberation Sans", Arial, sans-serif' font-size="13" font-weight="normal" fill="#616161" text-anchor="middle" textLength="25" lengthAdjust="spacingAndGlyphs">60%</text>
<text x="575.50" y="494.5" font-family='"Liberation Sans", Arial, sans-serif' font-size="13" font-weight="normal" fill="#616161" text-anchor="middle" textLength="25" lengthAdjust="spacingAndGlyphs">70%</text>
<text x="634.00" y="494.5" font-family='"Liberation Sans", Arial, sans-serif' font-size="13" font-weight="normal" fill="#616161" text-anchor="middle" textLength="25" lengthAdjust="spacingAndGlyphs">80%</text>
<text x="692.50" y="494.5" font-family='"Liberation Sans", Arial, sans-serif' font-size="13" font-weight="normal" fill="#616161" text-anchor="middle" textLength="25" lengthAdjust="spacingAndGlyphs">90%</text>
<text x="751.00" y="494.5" font-family='"Liberation Sans", Arial, sans-serif' font-size="13" font-weight="normal" fill="#616161" text-anchor="middle" textLength="33" lengthAdjust="spacingAndGlyphs">100%</text>
</g>
<g id="footer">
<text x="16" y="545.2" font-family='"Liberation Sans", Arial, sans-serif' font-size="13" font-weight="bold" fill="#616161" text-anchor="start" textLength="71.5" lengthAdjust="spacingAndGlyphs">Data source:</text>
<text x="92" y="545.2" font-family='"Liberation Sans", Arial, sans-serif' font-size="13" font-weight="normal" fill="#616161" text-anchor="start" textLength="290.5" lengthAdjust="spacingAndGlyphs">World Bank Poverty and Inequality Platform (2024)</text>
<text x="829.5" y="545.2" font-family='"Liberation Sans", Arial, sans-serif' font-size="13" font-weight="normal" fill="#616161" text-anchor="end" textLength="211" lengthAdjust="spacingAndGlyphs">OurWorldinData.org/poverty | CC BY</text>
<text x="16" y="565" font-family='"Liberation Sans", Arial, sans-serif' font-size="13" font-weight="bold" fill="#616161" text-anchor="start" textLength="31.5" lengthAdjust="spacingAndGlyphs">Note:</text>
<text x="52" y="565" font-family='"Liberation Sans", Arial, sans-serif' font-size="13" font-weight="normal" fill="#616161" text-anchor="start" textLength="761" lengthAdjust="spacingAndGlyphs">This data is expressed in 2011 international-$. Following an update, World Bank PIP now uses 2021 international-$ for its poverty and</text>
<text x="16" y="580.7" font-family='"Liberation Sans", Arial, sans-serif' font-size="13" font-weight="normal" fill="#616161" text-anchor="start" textLength="84" lengthAdjust="spacingAndGlyphs">inequality data</text>
<text x="103.5" y="580.7" font-family='"Liberation Sans", Arial, sans-serif' font-size="13" font-weight="normal" fill="#616161" text-anchor="start" textLength="76.5" lengthAdjust="spacingAndGlyphs">available here</text>
<line x1="103.5" y1="583.5" x2="180" y2="583.5" stroke="#b5b5b5" stroke-width="1"/>
<text x="180.3" y="580.7" font-family='"Liberation Sans", Arial, sans-serif' font-size="13" font-weight="normal" fill="#616161" text-anchor="start">.</text>
</g>
</svg></body></html>
